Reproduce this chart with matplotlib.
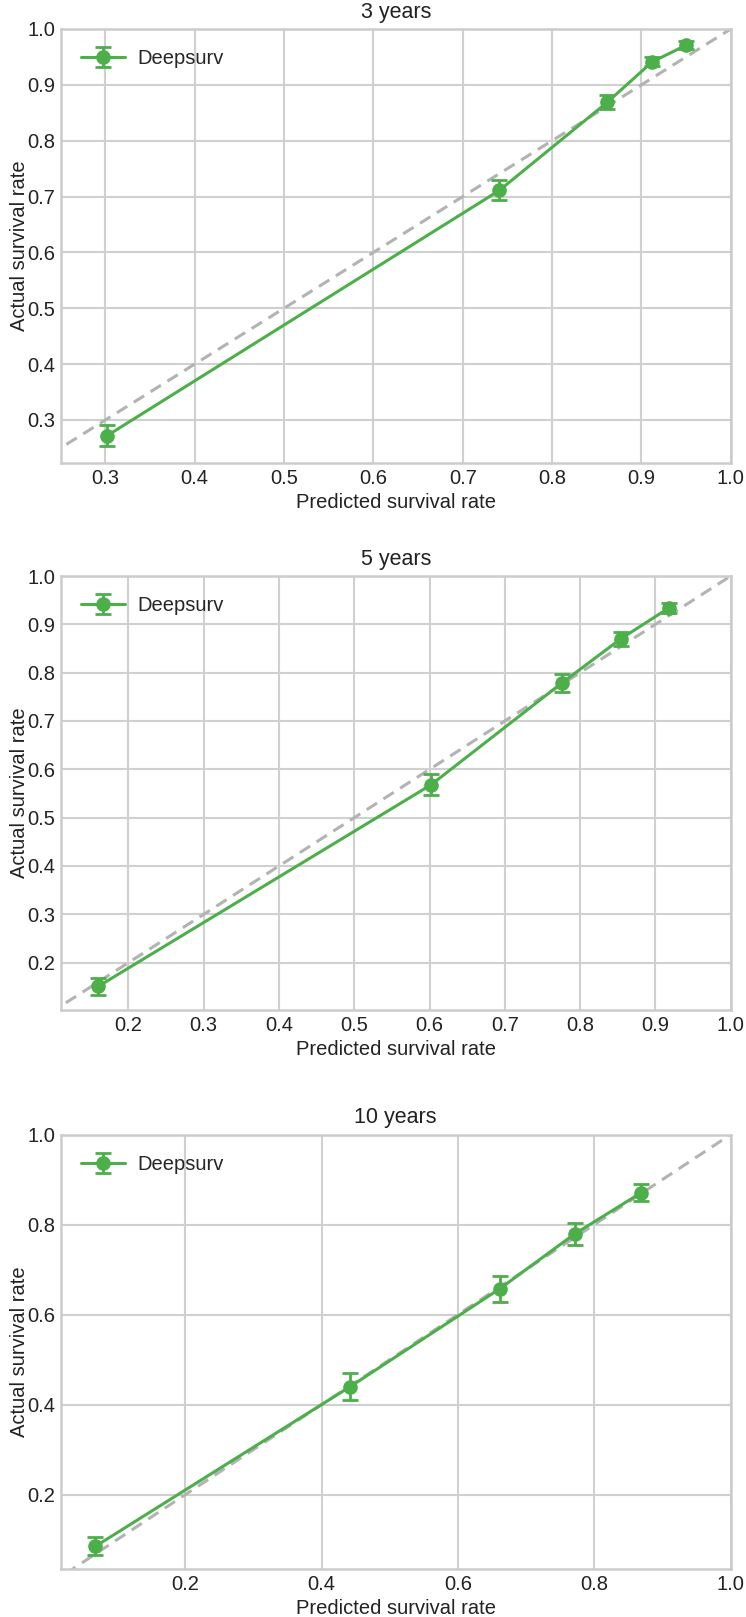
import matplotlib
matplotlib.use("Agg")
import matplotlib.pyplot as plt
import numpy as np

plt.style.use("seaborn-v0_8-whitegrid")
plt.rcParams["font.family"] = ["Liberation Sans", "DejaVu Sans"]

titles = ["3 years", "5 years", "10 years"]
series_label = "Deepsurv"

pred_3y = [0.302, 0.741, 0.862, 0.912, 0.950]
actual_3y = [0.272, 0.711, 0.869, 0.941, 0.971]
err_3y = [0.019, 0.018, 0.013, 0.008, 0.007]

pred_5y = [0.160, 0.602, 0.776, 0.854, 0.918]
actual_5y = [0.151, 0.568, 0.779, 0.870, 0.934]
err_5y = [0.017, 0.022, 0.018, 0.015, 0.010]

pred_10y = [0.068, 0.442, 0.661, 0.771, 0.869]
actual_10y = [0.085, 0.440, 0.657, 0.779, 0.871]
err_10y = [0.020, 0.030, 0.028, 0.024, 0.018]

xlims = [(0.25, 1.0), (0.11, 1.0), (0.0175, 1.0)]
ylims = [(0.223, 1.0), (0.102, 1.0), (0.035, 1.0)]
xticks = [[0.3, 0.4, 0.5, 0.6, 0.7, 0.8, 0.9, 1.0],
          [0.2, 0.3, 0.4, 0.5, 0.6, 0.7, 0.8, 0.9, 1.0],
          [0.2, 0.4, 0.6, 0.8, 1.0]]
yticks = [[0.3, 0.4, 0.5, 0.6, 0.7, 0.8, 0.9, 1.0],
          [0.2, 0.3, 0.4, 0.5, 0.6, 0.7, 0.8, 0.9, 1.0],
          [0.2, 0.4, 0.6, 0.8, 1.0]]

data = [(pred_3y, actual_3y, err_3y), (pred_5y, actual_5y, err_5y), (pred_10y, actual_10y, err_10y)]

W, H = 746, 1617
fig = plt.figure(figsize=(W / 100, H / 100), dpi=100)

left = 60.7 / W
width = 670 / W
tops = [29, 576, 1134.5]
bottoms = [463, 1010, 1569]

green = "#4caf4a"
for i, (px, ay, er) in enumerate(data):
    ax = fig.add_axes([left, 1 - bottoms[i] / H, width, (bottoms[i] - tops[i]) / H])
    ax.plot([0, 1], [0, 1], ls=(0, (4, 2.5)), color="#b3b3b3", lw=2.2, zorder=2)
    ax.errorbar(px, ay, yerr=er, fmt="-o", color=green, lw=2.2, ms=9.5,
                capsize=6, capthick=2, elinewidth=2, label=series_label, zorder=3)
    ax.set_xlim(*xlims[i])
    ax.set_ylim(*ylims[i])
    ax.set_xticks(xticks[i])
    ax.set_yticks(yticks[i])
    ax.set_xticklabels([f"{t:.1f}" for t in xticks[i]])
    ax.set_yticklabels([f"{t:.1f}" for t in yticks[i]])
    ax.tick_params(labelsize=14.5, colors="#222222", pad=4)
    ax.set_title(titles[i], fontsize=15.5, color="#222222", pad=8)
    ax.set_xlabel("Predicted survival rate", fontsize=14.5, color="#222222", labelpad=4)
    ax.set_ylabel("Actual survival rate", fontsize=14.5, color="#222222", labelpad=-1)
    ax.grid(True, color="#d0d0d0", lw=1.5)
    for s in ax.spines.values():
        s.set_color("#cccccc")
        s.set_linewidth(1.8)
    ax.legend(loc="upper left", fontsize=14.5, frameon=False, handlelength=2.2,
              borderaxespad=0.6, labelspacing=0.5, handletextpad=0.6)

fig.savefig("out.png", dpi=100)
